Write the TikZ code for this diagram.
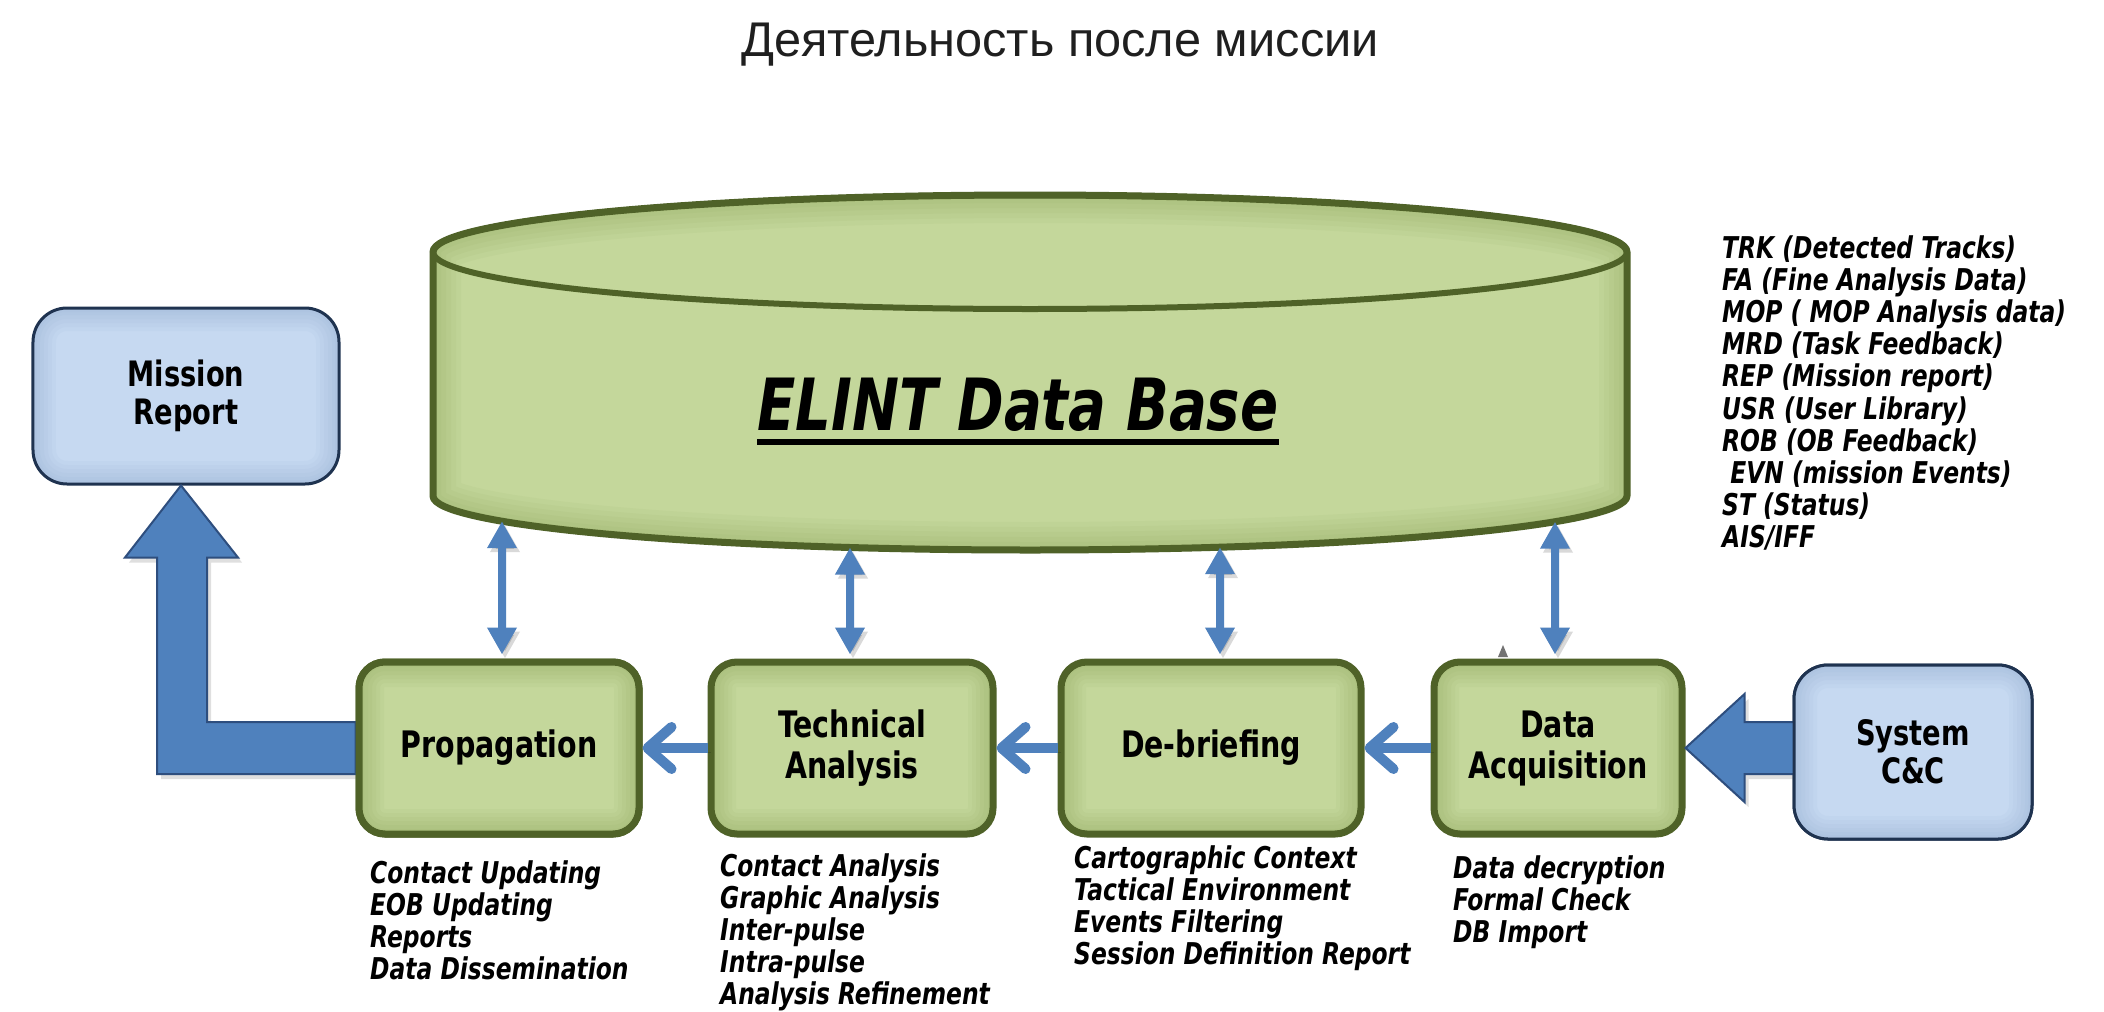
\documentclass[tikz,border=0pt]{standalone}
\usepackage{fontspec}
\usetikzlibrary{arrows.meta,calc,shadows}
\newfontfamily\titlefont{Liberation Sans}
\newfontfamily\dvfont{DejaVu Sans}[FakeStretch=0.78]

\definecolor{gfill}{HTML}{C4D79B}
\definecolor{gborder}{HTML}{4F6228}
\definecolor{gshade}{HTML}{7F9447}
\definecolor{bfill}{HTML}{C6D9F1}
\definecolor{bborder}{HTML}{1F3350}
\definecolor{bshade}{HTML}{7F9CC4}
\definecolor{arrowblue}{HTML}{4F81BD}
\definecolor{arrowedge}{HTML}{2E4E7E}

\def\cylpath{(433,252) -- (433,496) arc[start angle=180,end angle=0,x radius=597,y radius=54] -- (1627,252) arc[start angle=0,end angle=-180,x radius=597,y radius=57] -- cycle}

\begin{document}
\begin{tikzpicture}[x=1bp,y=-1bp,
  innerglow/.style={path picture={
    \foreach \w in {50,42,34,26,18,10}{
      \draw[rounded corners=#1, line width=\w bp, draw=gshade, opacity=0.06]
        (path picture bounding box.south west) rectangle (path picture bounding box.north east);}}},
  blueglow/.style={path picture={
    \foreach \w in {46,38,30,22,14,8}{
      \draw[rounded corners=#1, line width=\w bp, draw=bshade, opacity=0.06]
        (path picture bounding box.south west) rectangle (path picture bounding box.north east);}}},
  stagebox/.style={draw=gborder, fill=gfill, line width=7bp, rounded corners=26bp,
    innerglow=26bp, minimum height=172bp, align=center, inner sep=0pt,
    font=\dvfont\bfseries\fontsize{36.5bp}{41bp}\selectfont},
  extbox/.style={draw=bborder, fill=bfill, line width=3bp, rounded corners=34bp,
    blueglow=34bp, align=center, inner sep=0pt,
    font=\dvfont\bfseries\fontsize{35bp}{38bp}\selectfont},
  tasklist/.style={anchor=north west, align=left, inner sep=0pt,
    font=\dvfont\bfseries\itshape\fontsize{30bp}{32.2bp}\selectfont},
  flowarrow/.style={draw=arrowblue, line width=10bp,
    -{Straight Barb[length=24bp,width=42bp,round]},
    preaction={draw=black, opacity=.15, transform canvas={shift={(3bp,-4bp)}}}},
  dbarrow/.style={draw=arrowblue, line width=8bp,
    {Triangle[length=27bp,width=28bp]}-{Triangle[length=27bp,width=28bp]},
    preaction={draw=black, opacity=.15, transform canvas={shift={(3bp,-4bp)}}}},
  blockarrow/.style={fill=arrowblue, draw=arrowedge, line width=2bp, line join=miter,
    drop shadow={shadow xshift=4bp, shadow yshift=-5bp, opacity=.25}}
]
\useasboundingbox (0,0) rectangle (2104,1012);
\fill[white] (0,0) rectangle (2104,1012);

% title
\node[font=\titlefont\fontsize{48.7bp}{52bp}\selectfont, text=black!88, anchor=base] (title) at (1060,56) {Деятельность после миссии};

% database cylinder
\fill[gfill] \cylpath;
\begin{scope}
  \clip \cylpath;
  \foreach \w in {56,46,36,26,16,8}{
    \draw[gshade, opacity=.06, line width=\w bp] \cylpath;}
\end{scope}
\draw[gborder, line width=7bp, line join=round] \cylpath;
\draw[gborder, line width=6bp] (1030,252) ellipse[x radius=597, y radius=57];
\node[font=\dvfont\bfseries\itshape\fontsize{72bp}{76bp}\selectfont, inner sep=0pt, anchor=base] (elint) at (1018,430) {ELINT Data Base};
\draw[line width=6bp] ([yshift=-12bp]elint.base west) -- ([yshift=-12bp]elint.base east);

% points on the lower rim of the cylinder
\coordinate (u1) at (502,521.2);
\coordinate (u2) at (850,547.5);
\coordinate (u3) at (1220,547.2);
\coordinate (u4) at (1555,521.7);

% small mark on the acquisition box
\fill[black!55] (1498,657) -- (1503,645) -- (1508,657) -- cycle;

% external boxes
\node[extbox, minimum width=306bp, minimum height=176bp] (mrep) at (186,396) {Mission\\Report};
\node[extbox, minimum width=238bp, minimum height=174bp] (ccc) at (1913,752) {System\\C\&C};

% processing stages
\node[stagebox, minimum width=280bp] (prop) at (499,748) {Propagation};
\node[stagebox, minimum width=282bp] (tech) at (852,748) {Technical\\Analysis};
\node[stagebox, minimum width=300bp] (debr) at (1211,748) {De-briefing};
\node[stagebox, minimum width=248bp] (daq)  at (1558,748) {Data\\Acquisition};

% block arrows
\draw[blockarrow] ([xshift=-5bp]mrep.south) -- ++(57,72) -- ++(-31,0)
  |- ([yshift=26bp]prop.west) -- ([yshift=-26bp]prop.west)
  -| ($([xshift=-5bp]mrep.south)+(-24,72)$) -- ++(-32,0) -- cycle;
\draw[blockarrow] (daq.east) -- ++(59,-54) -- ++(0,28) -- ++(50,0) -- ++(0,52)
  -- ++(-50,0) -- ++(0,28) -- cycle;

% redraw box edges over the arrow tails
\node[stagebox, minimum width=280bp] at (prop) {Propagation};
\node[extbox, minimum width=238bp, minimum height=174bp] at (ccc) {System\\C\&C};

% flow between stages
\draw[flowarrow] (tech.west) -- (prop.east);
\draw[flowarrow] (debr.west) -- (tech.east);
\draw[flowarrow] (daq.west) -- (debr.east);

% exchanges with the database
\draw[dbarrow, shorten >=4bp] (u1) -- ([xshift=3bp]prop.north);
\draw[dbarrow, shorten >=4bp] (u2) -- ([xshift=-2bp]tech.north);
\draw[dbarrow, shorten >=4bp] (u3) -- ([xshift=9bp]debr.north);
\draw[dbarrow, shorten >=4bp] (u4) -- ([xshift=-3bp]daq.north);

% task lists
\node[tasklist] (lprop) at (370,860) {Contact Updating\\EOB Updating\\Reports\\Data Dissemination};
\node[tasklist] (ltech) at (720,853) {Contact Analysis\\Graphic Analysis\\Inter-pulse\\Intra-pulse\\Analysis Refinement};
\node[tasklist] (ldebr) at (1074,845) {Cartographic Context\\Tactical Environment\\Events Filtering\\Session Definition Report};
\node[tasklist] (ldaq) at (1453,855) {Data decryption\\Formal Check\\DB Import};
\node[tasklist] (ldb) at (1722,235) {TRK (Detected Tracks)\\FA (Fine Analysis Data)\\MOP ( MOP Analysis data)\\MRD (Task Feedback)\\REP (Mission report)\\USR (User Library)\\ROB (OB Feedback)\\\ EVN (mission Events)\\ST (Status)\\AIS/IFF};
\end{tikzpicture}
\end{document}
